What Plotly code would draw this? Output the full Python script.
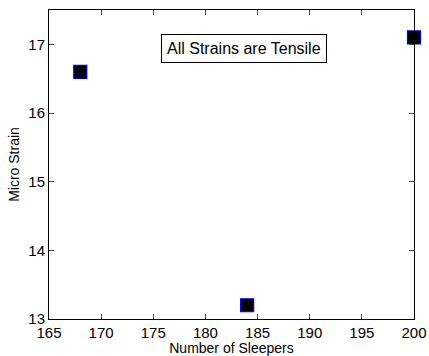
import plotly.graph_objects as go

sleepers = [168, 184, 200]
micro_strain = [16.6, 13.2, 17.1]
x_ticks = [165, 170, 175, 180, 185, 190, 195, 200]
y_ticks = [13, 14, 15, 16, 17]

fig = go.Figure()
fig.add_trace(go.Scatter(
    x=sleepers, y=micro_strain, mode="markers",
    marker=dict(symbol="square", size=13, color="black",
                line=dict(color="#0000ee", width=1.2)),
    cliponaxis=False, showlegend=False,
))

fig.update_layout(
    width=429, height=356,
    margin=dict(l=49, r=15, t=10, b=37),
    paper_bgcolor="white", plot_bgcolor="white",
    font=dict(family="Arial, Liberation Sans, sans-serif", size=14, color="black"),
    xaxis=dict(
        range=[165, 200], tickvals=x_ticks, ticks="inside", ticklen=5,
        showline=True, linecolor="black", linewidth=1, mirror="ticks",
        showgrid=False, zeroline=False, automargin=False,
        title=dict(text="Number of Sleepers", font=dict(size=14), standoff=0),
        tickfont=dict(size=15),
    ),
    yaxis=dict(
        range=[13, 17.5], tickvals=y_ticks, ticks="inside", ticklen=5,
        showline=True, linecolor="black", linewidth=1, mirror="ticks",
        showgrid=False, zeroline=False, automargin=False,
        title=dict(text="Micro Strain", font=dict(size=14), standoff=5),
        tickfont=dict(size=15),
    ),
    annotations=[dict(
        x=0.534, y=0.877, xref="paper", yref="paper",
        text="All Strains are Tensile", showarrow=False,
        font=dict(size=16, color="black"),
        bordercolor="black", borderwidth=1, borderpad=5, bgcolor="white",
        xanchor="center", yanchor="middle",
    )],
)

fig.write_html("out.html")
